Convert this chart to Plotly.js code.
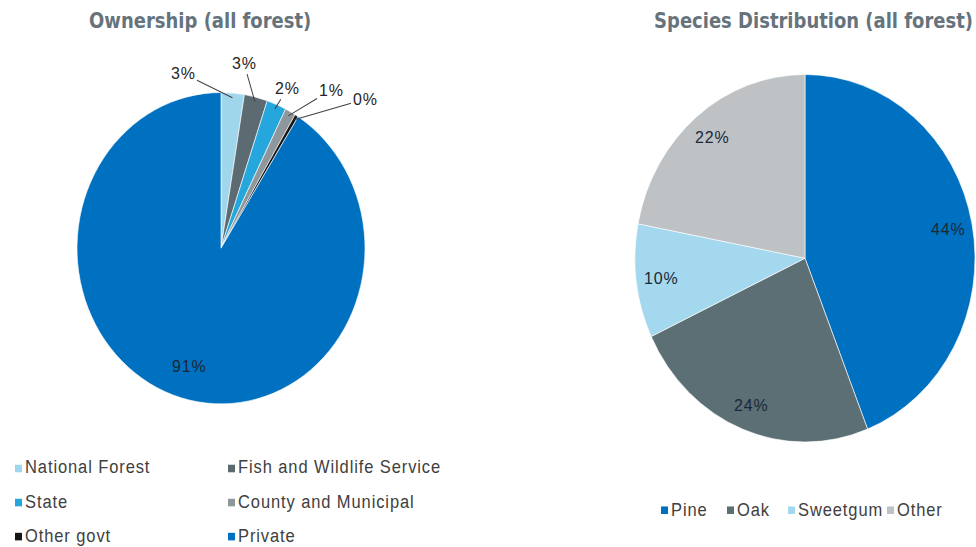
<!DOCTYPE html>
<html><head><meta charset="utf-8">
<script src="https://cdn.plot.ly/plotly-3.0.1.min.js"></script>
<style>
html,body{margin:0;padding:0;background:#fff;overflow:hidden;}
#wrap{width:976px;height:547px;overflow:hidden;}
#chart{width:976px;height:506px;transform:scaleY(1.081);transform-origin:0 0;}
</style></head><body><div id="wrap"><div id="chart"></div></div>
<script>
// ---- data ----
const ownershipTitle = 'Ownership (all forest)';
const ownershipLabels = ['National Forest','Fish and Wildlife Service','State','County and Municipal','Other govt','Private'];
const ownershipValues = [2.6, 2.6, 2.2, 1.2, 0.4, 91.0];
const speciesTitle = 'Species Distribution (all forest)';
const speciesLabels = ['Pine','Oak','Sweetgum','Other'];
const speciesValues = [44, 24, 10, 22];

// ---- styles / layout constants ----
const ownershipColors = ['#9fd6ec','#5b6b71','#25a6dc','#8e979b','#161616','#0070c0'];
const speciesColors = ['#0070c0','#5c6f75','#a3d8ee','#bec2c5'];
const W = 976, H = 506;
const px = x => x / W, py = y => 1 - y / H;
const pieL = {cx:221, cy:229.6, r:144, k:0.79};
const pieR = {cx:805, cy:238.9, r:170, k:0.855};
// outside label anchor spots for the small ownership slices (pixels)
const ownOutsideSpots = [[183,67.9],[244,58.6],[287.5,81.8],[331,83.3],[365,91.7]];
const legL = {cols:[15,228], rows:[432.4,463.9,495.4]};
const legR = {xs:[661,727,788,887], y:471};

const titleFont = {family:'Liberation Sans Narrow, DejaVu Sans Condensed, Arial Narrow, sans-serif', size:20, weight:700, color:'#66737c'};
const labelFont = {family:'Liberation Sans, Arial, sans-serif', size:16, color:'#262626'};
const legendFont = {family:'Liberation Sans, Arial, sans-serif', size:16.5, color:'#404040'};
const spaced = (t, ls) => '<span style="letter-spacing:' + ls + 'px">' + t + '</span>';

function dom(p){ return {x:[px(p.cx-p.r), px(p.cx+p.r)], y:[py(p.cy+p.r), py(p.cy-p.r)]}; }
function mids(vals){ const t = vals.reduce((a,b)=>a+b,0); let c = 0; return vals.map(v=>{ const m=(c+v/2)/t*2*Math.PI; c+=v; return m; }); }
function pcts(vals){ const t = vals.reduce((a,b)=>a+b,0); return vals.map(v=>Math.round(v/t*100)+'%'); }
function at(p, m, k){ return [p.cx + k*p.r*Math.sin(m), p.cy - k*p.r*Math.cos(m)]; }

const traces = [
  {type:'pie', labels:ownershipLabels, values:ownershipValues, sort:false, direction:'clockwise', rotation:0,
   marker:{colors:ownershipColors, line:{color:'#ffffff', width:0.6}}, textinfo:'none', domain:dom(pieL), showlegend:false},
  {type:'pie', labels:speciesLabels, values:speciesValues, sort:false, direction:'clockwise', rotation:0,
   marker:{colors:speciesColors, line:{color:'#ffffff', width:0.6}}, textinfo:'none', domain:dom(pieR), showlegend:false}
];

const annotations = [];
const shapes = [];
// titles
annotations.push({text:'<b>'+ownershipTitle+'</b>', x:px(200), y:py(18.5), xref:'paper', yref:'paper', xanchor:'center', yanchor:'middle', showarrow:false, font:titleFont});
annotations.push({text:'<b>'+speciesTitle+'</b>', x:px(813), y:py(18.5), xref:'paper', yref:'paper', xanchor:'center', yanchor:'middle', showarrow:false, font:titleFont});

// ownership labels
const oM = mids(ownershipValues), oT = pcts(ownershipValues);
oM.forEach((m,i)=>{
  if(i < ownOutsideSpots.length){
    const tip = at(pieL, m, 0.97), s = ownOutsideSpots[i];
    annotations.push({text:spaced(oT[i],0.8), x:px(tip[0]), y:py(tip[1]), xref:'paper', yref:'paper', ax:s[0]-tip[0], ay:s[1]-tip[1],
      xanchor:'center', yanchor:'middle',
      showarrow:true, arrowhead:0, arrowwidth:1, arrowcolor:'#404040', standoff:0, borderpad:1, font:labelFont});
  } else {
    const c = at(pieL, m, pieL.k);
    annotations.push({text:spaced(oT[i],0.8), x:px(c[0]), y:py(c[1]), xref:'paper', yref:'paper', xanchor:'center', yanchor:'middle',
      showarrow:false, font:Object.assign({}, labelFont, {color:'#1b2838'})});
  }
});
// species labels
const sM = mids(speciesValues), sT = pcts(speciesValues);
sM.forEach((m,i)=>{
  const c = at(pieR, m, pieR.k);
  annotations.push({text:spaced(sT[i],0.8), x:px(c[0]), y:py(c[1]), xref:'paper', yref:'paper', xanchor:'center', yanchor:'middle',
    showarrow:false, font:Object.assign({}, labelFont, {color:'#1b2838'})});
});

// legends
function legendItem(x, y, label, color){
  shapes.push({type:'rect', xref:'paper', yref:'paper', x0:px(x), x1:px(x+7), y0:py(y+4.5), y1:py(y-2.5), fillcolor:color, line:{width:0}});
  annotations.push({text:spaced(label,0.9), x:px(x+8), y:py(y), xref:'paper', yref:'paper', xanchor:'left', yanchor:'middle', showarrow:false, font:legendFont});
}
ownershipLabels.forEach((lab,i)=>{
  legendItem(legL.cols[i%2], legL.rows[Math.floor(i/2)], lab, ownershipColors[i]);
});
speciesLabels.forEach((lab,i)=>{
  legendItem(legR.xs[i], legR.y, lab, speciesColors[i]);
});

const layout = {width:W, height:H, margin:{l:0,r:0,t:0,b:0}, paper_bgcolor:'#ffffff', plot_bgcolor:'#ffffff',
  showlegend:false, annotations:annotations, shapes:shapes};
Plotly.newPlot('chart', traces, layout, {displayModeBar:false, staticPlot:true});
</script></body></html>
